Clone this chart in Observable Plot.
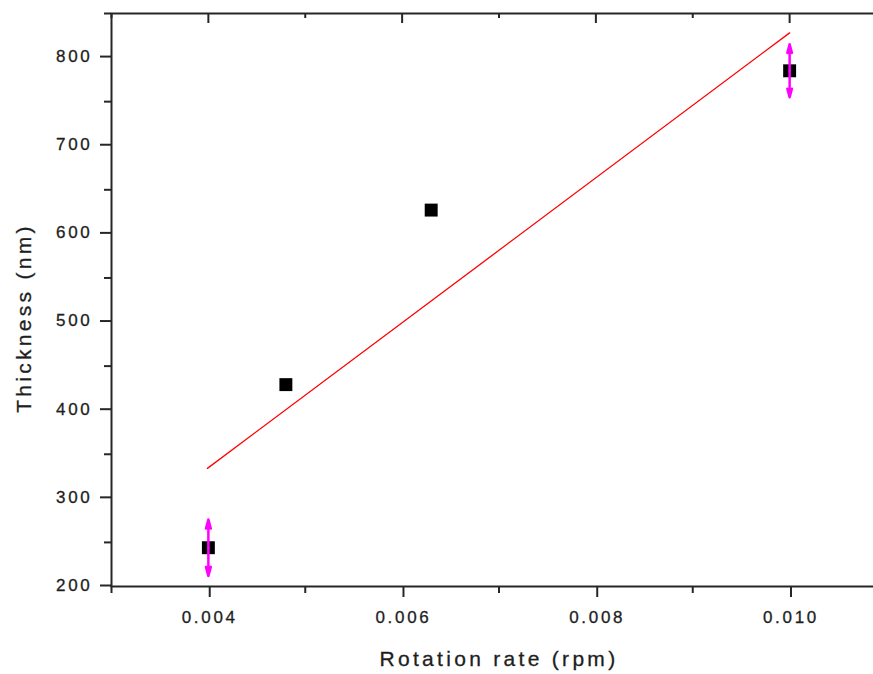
<!DOCTYPE html>
<html>
<head>
<meta charset="utf-8">
<script src="https://cdn.jsdelivr.net/npm/d3@7"></script>
<script src="https://cdn.jsdelivr.net/npm/@observablehq/plot@0.6"></script>
<style>
  html, body { margin: 0; padding: 0; background: #fff; overflow: hidden; }
  #chart svg { max-width: none !important; display: block; }
  .tk text { letter-spacing: 2.7px; stroke: #1e1e1e; stroke-width: 0.3px; }
  .ttl text { letter-spacing: 3.3px; stroke: #1e1e1e; stroke-width: 0.3px; }
</style>
</head>
<body>
<div id="chart"></div>
<script>
// Data
const rate = [0.004, 0.0048, 0.0063, 0.010];
const thickness = [244, 429, 627, 785];
const errValue = [32, 0, 0, 30];

// Linear fit line endpoints
const fitRate = [0.00399, 0.010];
const fitThickness = [334, 828];

// Ticks
const xMajor = [0.004, 0.006, 0.008, 0.010];
const xMinor = [0.003, 0.005, 0.007, 0.009, 0.011];
const yMajor = [200, 300, 400, 500, 600, 700, 800];
const yMinor = [250, 350, 450, 550, 650, 750, 850];

const xTitle = "Rotation rate (rpm)";
const yTitle = "Thickness (nm)";

const points = rate.map((r, i) => ({x: r, y: thickness[i], e: errValue[i]}));
const errs = points.filter(d => d.e > 0);
const fit = fitRate.map((r, i) => ({x: r, y: fitThickness[i]}));

const W = 886, H = 674, mL = 111, mT = 13, mB = 88;
const plotH = H - mT - mB;
const axisColor = "#262626";

const chart = Plot.plot({
  width: W,
  height: H,
  marginLeft: mL,
  marginRight: 0,
  marginTop: mT,
  marginBottom: mB,
  style: {background: "#fff", color: "#1e1e1e", fontFamily: "Arial, 'Liberation Sans', sans-serif"},
  x: {domain: [0.003, 0.011]},
  y: {domain: [200, 850]},
  marks: [
    // bottom axis
    Plot.axisX({anchor: "bottom", ticks: xMajor, tickSize: 11, tickPadding: 13, tickFormat: d3.format(".3f"),
      fontSize: 17, label: null, stroke: axisColor, strokeWidth: 2, dx: 1.35, className: "tk"}),
    Plot.axisX({anchor: "bottom", ticks: xMinor, tickSize: 7, tickFormat: () => "", label: null, stroke: axisColor, strokeWidth: 2}),
    // left axis
    Plot.axisY({anchor: "left", ticks: yMajor, tickSize: 11, tickPadding: 8, fontSize: 17, label: null,
      stroke: axisColor, strokeWidth: 2, dy: -1, className: "tk"}),
    Plot.axisY({anchor: "left", ticks: yMinor, tickSize: 7, tickFormat: () => "", label: null, stroke: axisColor, strokeWidth: 2}),
    // top inward ticks
    Plot.ruleX(xMajor, {x: d => d, insetBottom: plotH - 10, stroke: axisColor, strokeWidth: 2}),
    Plot.ruleX(xMinor, {x: d => d, insetBottom: plotH - 5, stroke: axisColor, strokeWidth: 2}),
    Plot.frame({stroke: axisColor, strokeWidth: 2}),
    // fit line
    Plot.line(fit, {x: "x", y: "y", stroke: "#ff0000", strokeWidth: 1.3}),
    // data squares
    Plot.dot(points, {x: "x", y: "y", symbol: "square", r: 7.3, fill: "#000", stroke: "none"}),
    // error bars
    Plot.arrow(errs, {x1: "x", x2: "x", y1: "y", y2: d => d.y + d.e, stroke: "#ff00ff", strokeWidth: 2.5, headLength: 12, headAngle: 30}),
    Plot.arrow(errs, {x1: "x", x2: "x", y1: "y", y2: d => d.y - d.e, stroke: "#ff00ff", strokeWidth: 2.5, headLength: 12, headAngle: 30}),
    // titles
    Plot.text([xTitle], {frameAnchor: "bottom", dy: 79, lineAnchor: "bottom", textAnchor: "middle", fontSize: 21, fill: "#1e1e1e", className: "ttl"}),
    Plot.text([yTitle], {frameAnchor: "left", dx: -87, dy: 18, rotate: -90, textAnchor: "middle", fontSize: 21, fill: "#1e1e1e", className: "ttl"})
  ]
});
document.getElementById("chart").appendChild(chart);
</script>
</body>
</html>
